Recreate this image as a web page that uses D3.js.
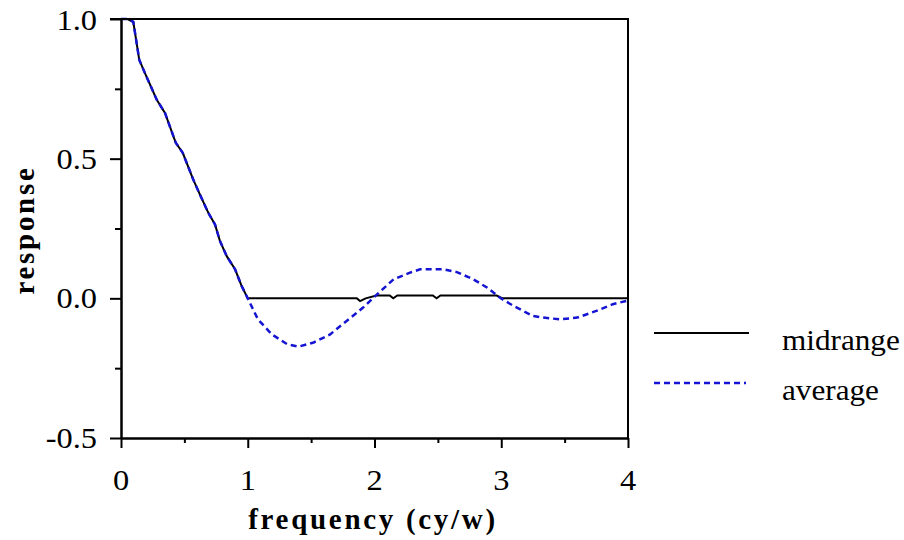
<!DOCTYPE html>
<html lang="en">
	<head>
		<meta charset="utf-8">
		<title>D3: response vs frequency</title>
		<script type="text/javascript" src="https://cdn.jsdelivr.net/npm/d3@7"></script>
		<style type="text/css">
			body { margin: 0; background: #fff; }
			text { font-family: "Liberation Serif", "Times New Roman", serif; fill: #000; }
		</style>
	</head>
	<body>
		<script type="text/javascript">

			//Data
			var freqMid = [0, 0.05, 0.097, 0.144, 0.195, 0.282, 0.347, 0.432, 0.487, 0.57, 0.623, 0.689, 0.742, 0.781, 0.834, 0.9, 0.952, 1.0,
						   1.86, 1.886, 1.93, 2.017, 2.12, 2.148, 2.18, 2.46, 2.49, 2.52, 2.964, 3.01, 4.0];
			var respMid = [1.0, 1.0, 0.99, 0.854, 0.8, 0.711, 0.664, 0.557, 0.521, 0.425, 0.371, 0.306, 0.264, 0.205, 0.151, 0.104, 0.044, 0,
						   0, -0.01, 0, 0.01, 0.01, 0, 0.01, 0.01, 0, 0.01, 0.01, 0, 0];

			var freqAvg = [0, 0.05, 0.097, 0.144, 0.195, 0.282, 0.347, 0.432, 0.487, 0.57, 0.623, 0.689, 0.742, 0.781, 0.834, 0.9, 0.952, 1.0,
						   1.08, 1.19, 1.31, 1.40, 1.52, 1.65, 1.78, 1.91, 2.02, 2.15, 2.28, 2.36, 2.54, 2.65, 2.78, 2.89, 2.99,
						   3.10, 3.25, 3.33, 3.46, 3.6, 3.75, 3.88, 4.0];
			var respAvg = [1.0, 1.0, 0.99, 0.854, 0.8, 0.711, 0.664, 0.557, 0.521, 0.425, 0.371, 0.306, 0.264, 0.205, 0.151, 0.104, 0.044, 0,
						   -0.075, -0.129, -0.164, -0.173, -0.158, -0.129, -0.081, -0.033, 0.014, 0.068, 0.092, 0.104, 0.104, 0.094, 0.068, 0.038, 0.002,
						   -0.028, -0.063, -0.069, -0.075, -0.069, -0.045, -0.021, -0.008];

			var xMajor = [0, 1, 2, 3, 4];
			var xMinor = [0.5, 1.5, 2.5, 3.5];
			var yMajor = [1.0, 0.5, 0.0, -0.5];
			var yMinor = [0.75, 0.25, -0.25];
			var seriesNames = ["midrange", "average"];

			//Width and height
			var w = 904;
			var h = 540;
			var padL = 121, padR = 628, padT = 19, padB = 438;

			var x = d3.scaleLinear().domain([0, 4]).range([padL, padR]);
			var y = d3.scaleLinear().domain([-0.5, 1.0]).range([padB, padT]);

			//Create SVG element
			var svg = d3.select("body")
						.append("svg")
						.attr("width", w)
						.attr("height", h);

			//Curves
			var line = d3.line()
						 .x(function(d) { return x(d[0]); })
						 .y(function(d) { return y(d[1]); });

			var midData = freqMid.map(function(f, i) { return [f, respMid[i]]; });
			var avgData = freqAvg.map(function(f, i) { return [f, respAvg[i]]; });

			svg.append("path")
			   .attr("d", line(midData))
			   .attr("fill", "none")
			   .attr("stroke", "#000")
			   .attr("stroke-width", 2);

			svg.append("path")
			   .attr("d", line(avgData))
			   .attr("fill", "none")
			   .attr("stroke", "#1414d2")
			   .attr("stroke-width", 2.5)
			   .attr("stroke-dasharray", "6,4");

			//Frame: top and right borders
			svg.append("path")
			   .attr("d", "M" + (padL - 11) + "," + padT + "H" + padR + "V" + padB)
			   .attr("fill", "none")
			   .attr("stroke", "#000")
			   .attr("stroke-width", 2);

			//Axes
			function styleAxis(g) {
				g.select(".domain").attr("stroke-width", 2);
				g.selectAll(".tick line").attr("stroke-width", 2);
			}

			svg.append("g")
			   .attr("transform", "translate(" + padL + ",0)")
			   .call(d3.axisLeft(y).tickValues(yMajor).tickSize(11).tickSizeOuter(0).tickFormat(""))
			   .call(styleAxis);
			svg.append("g")
			   .attr("transform", "translate(" + padL + ",0)")
			   .call(d3.axisLeft(y).tickValues(yMinor).tickSize(6).tickSizeOuter(0).tickFormat(""))
			   .call(styleAxis);
			svg.append("g")
			   .attr("transform", "translate(0," + padB + ")")
			   .call(d3.axisBottom(x).tickValues(xMajor).tickSize(10).tickSizeOuter(0).tickFormat(""))
			   .call(styleAxis);
			svg.append("g")
			   .attr("transform", "translate(0," + padB + ")")
			   .call(d3.axisBottom(x).tickValues(xMinor).tickSize(5).tickSizeOuter(0).tickFormat(""))
			   .call(styleAxis);

			//Tick labels
			svg.selectAll("text.ylab")
			   .data(yMajor)
			   .enter()
			   .append("text")
			   .attr("class", "ylab")
			   .attr("transform", function(d) {
					return "translate(97," + Math.max(y(d) + 10, 30) + ") scale(1.08,1)";
			   })
			   .attr("text-anchor", "end")
			   .attr("font-size", "30px")
			   .text(function(d) { return d3.format(".1f")(d).replace("\u2212", "-"); });

			svg.selectAll("text.xlab")
			   .data(xMajor)
			   .enter()
			   .append("text")
			   .attr("class", "xlab")
			   .attr("transform", function(d) {
					return "translate(" + x(d) + ",490) scale(1.08,1)";
			   })
			   .attr("text-anchor", "middle")
			   .attr("font-size", "30px")
			   .text(function(d) { return d; });

			//Axis titles
			svg.append("text")
			   .attr("x", 373)
			   .attr("y", 529)
			   .attr("text-anchor", "middle")
			   .attr("font-size", "29px")
			   .attr("font-weight", "bold")
			   .attr("letter-spacing", "2.7px")
			   .text("frequency (cy/w)");

			svg.append("text")
			   .attr("transform", "translate(34,230) rotate(-90)")
			   .attr("text-anchor", "middle")
			   .attr("font-size", "29px")
			   .attr("font-weight", "bold")
			   .attr("letter-spacing", "2.7px")
			   .text("response");

			//Legend
			var legend = svg.selectAll("g.legend")
							.data(seriesNames)
							.enter()
							.append("g")
							.attr("class", "legend")
							.attr("transform", function(d, i) { return "translate(654," + (333 + i * 50) + ")"; });

			legend.append("line")
				  .attr("x1", 0)
				  .attr("x2", function(d, i) { return i == 0 ? 95 : 92; })
				  .attr("stroke", function(d, i) { return i == 0 ? "#000" : "#1414d2"; })
				  .attr("stroke-width", function(d, i) { return i == 0 ? 2 : 2.5; })
				  .attr("stroke-dasharray", function(d, i) { return i == 0 ? null : "6,4"; });

			legend.append("text")
				  .attr("transform", "translate(128,17) scale(1.04,1)")
				  .attr("font-size", "30px")
				  .text(function(d) { return d; });

		</script>
	</body>
</html>
